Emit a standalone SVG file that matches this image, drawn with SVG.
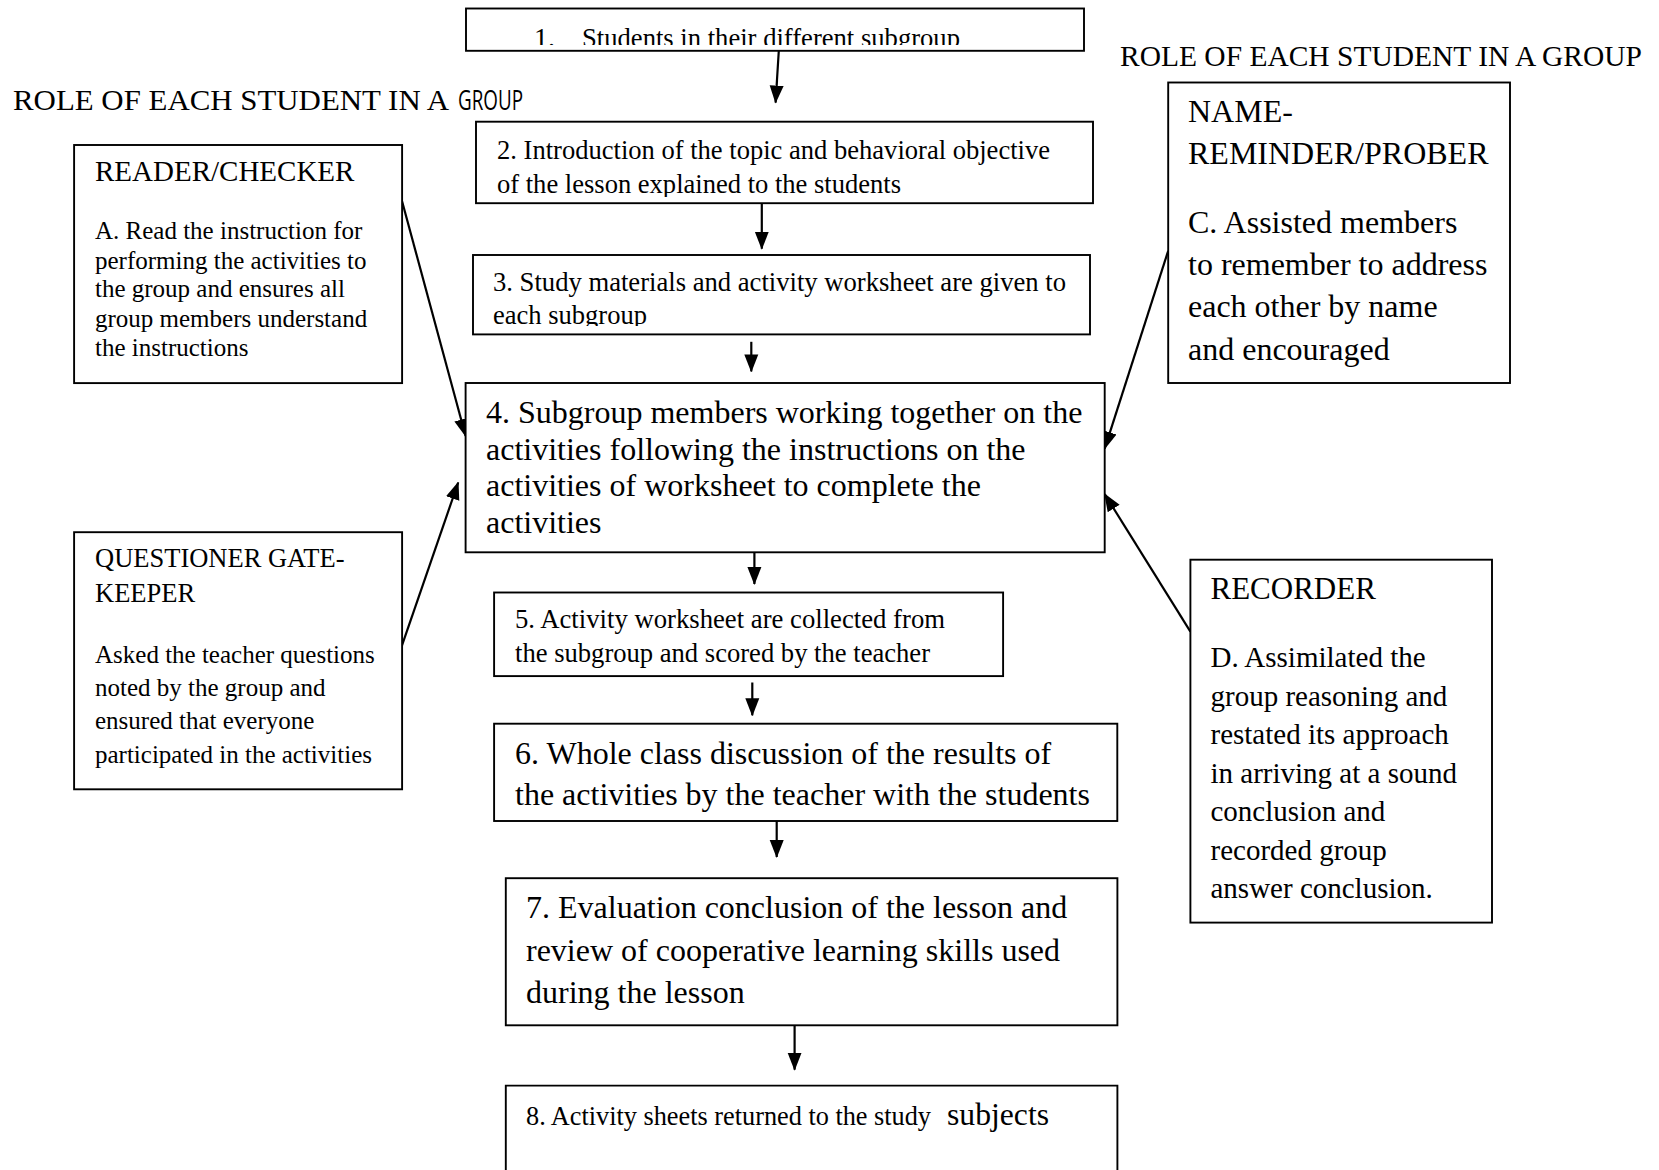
<svg xmlns="http://www.w3.org/2000/svg" width="1659" height="1170" viewBox="0 0 1659 1170">
<style>
text{font-family:"Liberation Serif","Times New Roman",serif;fill:#000}
.box{fill:#fff;stroke:#000;stroke-width:1.9}
.edge{stroke:#000;stroke-width:2.2;fill:none}
.s26{font-size:28px}
.s29{font-size:29px}
.s32{font-size:32px}
.s25{font-size:25px}
</style>
<defs>
<marker id="ah" markerUnits="userSpaceOnUse" markerWidth="18" markerHeight="16" viewBox="0 0 18 16" refX="17" refY="8" orient="auto">
<path d="M0,1 L18,8 L0,15 Z" fill="#000"/>
</marker>
<clipPath id="c1"><rect x="466" y="8" width="618" height="37"/></clipPath>
<clipPath id="c2"><rect x="476" y="121" width="617" height="76"/></clipPath>
<clipPath id="c3"><rect x="473" y="255" width="617" height="71"/></clipPath>
</defs>

<text x="13" y="110" font-size="30" textLength="436" lengthAdjust="spacingAndGlyphs">ROLE OF EACH STUDENT IN A</text>
<text x="458" y="110" style="font-family:'Open Sans','Liberation Sans',sans-serif" font-size="27" textLength="65" lengthAdjust="spacingAndGlyphs">GROUP</text>
<text x="1120" y="65.5" font-size="29.3" textLength="522" lengthAdjust="spacingAndGlyphs">ROLE OF EACH STUDENT IN A GROUP</text>

<g id="connectors">
<line class="edge" x1="778.8" y1="50.8" x2="775.6" y2="102.6" marker-end="url(#ah)"/>
<line class="edge" x1="761.8" y1="203" x2="761.8" y2="248.7" marker-end="url(#ah)"/>
<line class="edge" x1="751.3" y1="341.8" x2="751.3" y2="371.4" marker-end="url(#ah)"/>
<line class="edge" x1="754.4" y1="552.3" x2="754.4" y2="584" marker-end="url(#ah)"/>
<line class="edge" x1="752.3" y1="682.5" x2="752.3" y2="715.3" marker-end="url(#ah)"/>
<line class="edge" x1="776.7" y1="821" x2="776.7" y2="857" marker-end="url(#ah)"/>
<line class="edge" x1="794.6" y1="1025.3" x2="794.6" y2="1069.7" marker-end="url(#ah)"/>
<line class="edge" x1="402" y1="201" x2="465.6" y2="436" marker-end="url(#ah)"/>
<line class="edge" x1="402" y1="645.4" x2="458.2" y2="482.5" marker-end="url(#ah)"/>
<line class="edge" x1="1168.2" y1="250.8" x2="1104.7" y2="448.6" marker-end="url(#ah)"/>
<line class="edge" x1="1190.4" y1="631.7" x2="1104.7" y2="494.1" marker-end="url(#ah)"/>
</g>

<g id="step1">
<rect class="box" x="466" y="8.5" width="618" height="42.3"/>
<g clip-path="url(#c1)">
<text class="s26" x="534" y="47">1.</text>
<text class="s26" x="582" y="47" textLength="378" lengthAdjust="spacingAndGlyphs">Students in their different subgroup</text>
</g>
</g>

<g id="step2">
<rect class="box" x="476" y="121.7" width="617" height="81.5"/>
<g clip-path="url(#c2)">
<text class="s26" x="497" y="158.7" textLength="553" lengthAdjust="spacingAndGlyphs">2. Introduction of the topic and behavioral objective</text>
<text class="s26" x="497" y="192.6" textLength="404" lengthAdjust="spacingAndGlyphs">of the lesson explained to the students</text>
</g>
</g>

<g id="step3">
<rect class="box" x="473" y="255" width="617" height="79.4"/>
<g clip-path="url(#c3)">
<text class="s26" x="493" y="291" textLength="573" lengthAdjust="spacingAndGlyphs">3. Study materials and activity worksheet are given to</text>
<text class="s26" x="493" y="323.5" textLength="154" lengthAdjust="spacingAndGlyphs">each subgroup</text>
</g>
</g>

<g id="step4">
<rect class="box" x="465.6" y="383" width="639.1" height="169.3"/>
<text class="s32" x="486" y="423.2">4. Subgroup members working together on the</text>
<text class="s32" x="486" y="460.3">activities following the instructions on the</text>
<text class="s32" x="486" y="496.2">activities of worksheet to complete the</text>
<text class="s32" x="486" y="533.3">activities</text>
</g>

<g id="step5">
<rect class="box" x="494.1" y="592.5" width="509" height="83.6"/>
<text class="s26" x="515" y="627.5" textLength="430" lengthAdjust="spacingAndGlyphs">5. Activity worksheet are collected from</text>
<text class="s26" x="515" y="662.4" textLength="415" lengthAdjust="spacingAndGlyphs">the subgroup and scored by the teacher</text>
</g>

<g id="step6">
<rect class="box" x="494.1" y="723.7" width="623.2" height="97.3"/>
<text class="s32" x="515" y="764">6. Whole class discussion of the results of</text>
<text class="s32" x="515" y="805.2">the activities by the teacher with the students</text>
</g>

<g id="step7">
<rect class="box" x="505.8" y="878.2" width="611.6" height="147.1"/>
<text class="s32" x="526" y="918.4">7. Evaluation conclusion of the lesson and</text>
<text class="s32" x="526" y="960.8">review of cooperative learning skills used</text>
<text class="s32" x="526" y="1003.1">during the lesson</text>
</g>

<g id="step8">
<path class="box" d="M505.8,1175 V1085.6 H1117.4 V1175"/>
<text x="526" y="1124.8" font-size="28" textLength="405" lengthAdjust="spacingAndGlyphs">8. Activity sheets returned to the study</text>
<text x="947" y="1124.8" font-size="32" textLength="102" lengthAdjust="spacingAndGlyphs">subjects</text>
</g>

<g id="reader">
<rect class="box" x="74.1" y="145" width="328" height="238.1"/>
<text class="s29" x="95" y="181">READER/CHECKER</text>
<text class="s25" x="95" y="239.1">A. Read the instruction for</text>
<text class="s25" x="95" y="268.8">performing the activities to</text>
<text class="s25" x="95" y="297.3">the group and ensures all</text>
<text class="s25" x="95" y="327">group members understand</text>
<text class="s25" x="95" y="355.5">the instructions</text>
</g>

<g id="questioner">
<rect class="box" x="74.1" y="532.2" width="328" height="257.1"/>
<text x="95" y="567.1" font-size="26.5">QUESTIONER GATE-</text>
<text x="95" y="602" font-size="26.5">KEEPER</text>
<text class="s25" x="95" y="663.4">Asked the teacher questions</text>
<text class="s25" x="95" y="696.2">noted by the group and</text>
<text class="s25" x="95" y="729">ensured that everyone</text>
<text class="s25" x="95" y="762.9">participated in the activities</text>
</g>

<g id="namereminder">
<rect class="box" x="1168.2" y="82.5" width="341.8" height="300.5"/>
<text class="s32" x="1188" y="121.7">NAME-</text>
<text class="s32" x="1188" y="164">REMINDER/PROBER</text>
<text class="s32" x="1188" y="232.8">C. Assisted members</text>
<text class="s32" x="1188" y="275.1">to remember to address</text>
<text class="s32" x="1188" y="317.4">each other by name</text>
<text class="s32" x="1188" y="359.8">and encouraged</text>
</g>

<g id="recorder">
<rect class="box" x="1190.4" y="559.7" width="301.6" height="362.9"/>
<text x="1210.5" y="598.9" font-size="31">RECORDER</text>
<text x="1210.5" y="666.6" font-size="29">D. Assimilated the</text>
<text x="1210.5" y="705.8" font-size="29">group reasoning and</text>
<text x="1210.5" y="743.8" font-size="29">restated its approach</text>
<text x="1210.5" y="783" font-size="29">in arriving at a sound</text>
<text x="1210.5" y="821.1" font-size="29">conclusion and</text>
<text x="1210.5" y="860.2" font-size="29">recorded group</text>
<text x="1210.5" y="898.3" font-size="29">answer conclusion.</text>
</g>
</svg>
